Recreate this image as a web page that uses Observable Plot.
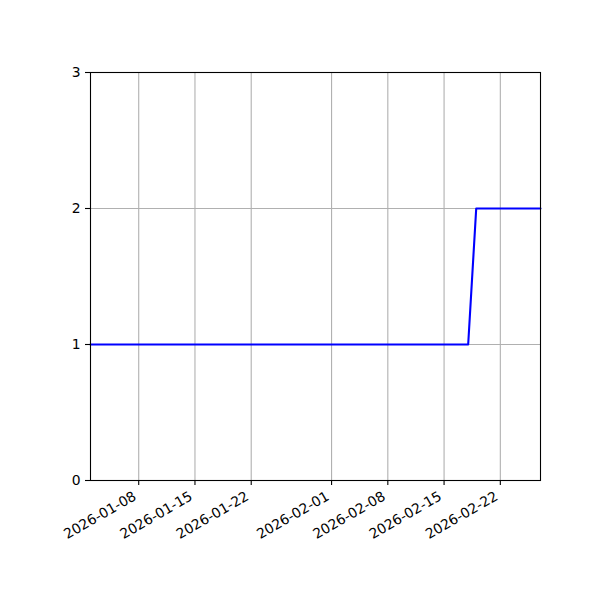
<!DOCTYPE html>
<html><head><meta charset="utf-8">
<script src="https://cdn.jsdelivr.net/npm/d3@7"></script>
<script src="https://cdn.jsdelivr.net/npm/@observablehq/plot@0.6"></script>
<style>html,body{margin:0;padding:0;background:#fff} svg{display:block}</style>
</head><body><div id="chart"></div>
<script>
const dates = ["2026-01-02", "2026-02-18", "2026-02-19", "2026-02-27"];
const values = [1, 1, 2, 2];
const xTickLabels = ["2026-01-08", "2026-01-15", "2026-01-22", "2026-02-01", "2026-02-08", "2026-02-15", "2026-02-22"];
const yTicks = [0, 1, 2, 3];
const xDomain = ["2026-01-02", "2026-02-27"];
const yDomain = [0, 3];

const parse = d3.utcParse("%Y-%m-%d");
const fmt = d3.utcFormat("%Y-%m-%d");
const data = dates.map((d, i) => ({date: parse(d), value: values[i]}));
const xt = xTickLabels.map(parse);

const chart = Plot.plot({
  width: 600, height: 600,
  marginLeft: 90, marginRight: 60, marginTop: 72, marginBottom: 120,
  style: {fontFamily: "DejaVu Sans", fontSize: "13.9px", background: "#fff", color: "#000"},
  x: {type: "utc", domain: xDomain.map(parse)},
  y: {domain: yDomain},
  marks: [
    Plot.ruleX(xt, {stroke: "#b0b0b0", strokeWidth: 1.1}),
    Plot.ruleY(yTicks, {stroke: "#b0b0b0", strokeWidth: 1.1}),
    Plot.line(data, {x: "date", y: "value", stroke: "#0000ff", strokeWidth: 2.1}),
    Plot.frame({stroke: "#000", strokeWidth: 1.1}),
    Plot.axisX({ticks: xt, tickSize: 5, tickFormat: () => "", strokeWidth: 1.1, label: null}),
    Plot.axisY({ticks: yTicks, tickSize: 5, tickFormat: () => "", strokeWidth: 1.1, label: null}),
    Plot.text(xt, {x: d => d, text: d => fmt(d), frameAnchor: "bottom", rotate: -30,
      textAnchor: "end", lineAnchor: "bottom", dy: 18.5, dx: -1.5, fill: "#000"}),
    Plot.text(yTicks, {y: d => d, text: d => String(d), frameAnchor: "left",
      textAnchor: "end", dx: -10, fill: "#000"})
  ]
});
document.getElementById("chart").appendChild(chart);
</script>
</body></html>
